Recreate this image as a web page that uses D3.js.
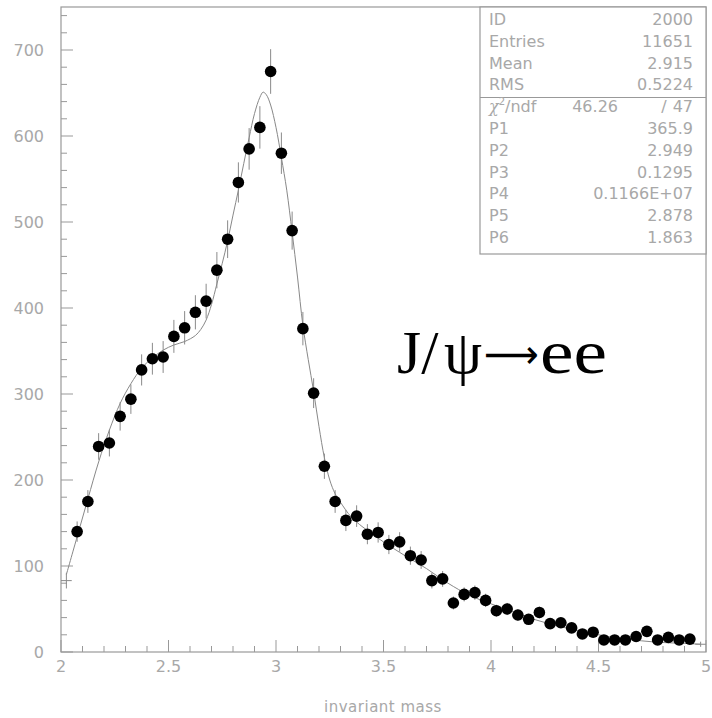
<!DOCTYPE html>
<html>
<head>
<meta charset="utf-8">
<script src="https://cdn.jsdelivr.net/npm/d3@7"></script>
<style>
  html, body { margin: 0; padding: 0; background: #fff; }
  svg { display: block; }
</style>
</head>
<body>
<svg id="chart" width="712" height="718"></svg>
<script>
// ---- data ----
const massBins = [2.025, 2.075, 2.125, 2.175, 2.225, 2.275, 2.325, 2.375, 2.425, 2.475,
  2.525, 2.575, 2.625, 2.675, 2.725, 2.775, 2.825, 2.875, 2.925, 2.975,
  3.025, 3.075, 3.125, 3.175, 3.225, 3.275, 3.325, 3.375, 3.425, 3.475,
  3.525, 3.575, 3.625, 3.675, 3.725, 3.775, 3.825, 3.875, 3.925, 3.975,
  4.025, 4.075, 4.125, 4.175, 4.225, 4.275, 4.325, 4.375, 4.425, 4.475,
  4.525, 4.575, 4.625, 4.675, 4.725, 4.775, 4.825, 4.875, 4.925, 4.975];
const counts = [83, 140, 175, 239, 243, 274, 294, 328, 341, 343,
  367, 377, 395, 408, 444, 480, 546, 585, 610, 675,
  580, 490, 376, 301, 216, 175, 153, 158, 137, 139,
  125, 128, 112, 107, 83, 85, 57, 67, 69, 60,
  48, 50, 43, 38, 46, 33, 34, 28, 21, 23,
  14, 14, 14, 18, 24, 14, 17, 14, 15, 9];
const binWidth = 0.05;

const fitX = [2.025, 2.075, 2.125, 2.175, 2.225, 2.275, 2.325, 2.375, 2.425, 2.475,
  2.525, 2.575, 2.625, 2.65, 2.675, 2.70, 2.725, 2.75, 2.775, 2.80,
  2.825, 2.85, 2.875, 2.90, 2.925, 2.94, 2.955, 2.975, 3.00, 3.025,
  3.05, 3.075, 3.10, 3.125, 3.15, 3.175, 3.20, 3.225, 3.25, 3.275,
  3.30, 3.35, 3.40, 3.45, 3.50, 3.60, 3.70, 3.80, 3.90, 4.00,
  4.10, 4.20, 4.30, 4.40, 4.50, 4.60, 4.70, 4.80, 4.90, 4.975];
const fitY = [90, 134, 178, 221, 258, 289, 312, 330, 342, 351,
  357, 361, 368, 375, 386, 404, 428, 452, 478, 508,
  537, 568, 598, 626, 645, 651, 648, 636, 610, 575,
  537, 488, 436, 380, 340, 303, 262, 226, 200, 184,
  174, 157, 146, 137, 128, 112, 97, 80, 66, 56,
  47, 38, 31, 25, 20, 16, 13, 11, 10, 9];

const xTicks = [2, 2.5, 3, 3.5, 4, 4.5, 5];
const yTicks = [0, 100, 200, 300, 400, 500, 600, 700];

const statLabels = ["ID", "Entries", "Mean", "RMS"];
const statValues = ["2000", "11651", "2.915", "0.5224"];
const chi2Value = "46.26";
const ndfValue = "47";
const parLabels = ["P1", "P2", "P3", "P4", "P5", "P6"];
const parValues = ["365.9", "2.949", "0.1295", "0.1166E+07", "2.878", "1.863"];

const titleParts = ["J/", "\u03C8", "\u27F6", "ee"];
const xTitle = "invariant mass";

(function () {
// ---- layout ----
const svg = d3.select("#chart");
const pL = 61, pR = 706, pT = 7, pB = 652;
const x = d3.scaleLinear().domain([2, 5]).range([pL, pR]);
const y = d3.scaleLinear().domain([0, 750]).range([pB, pT]);

const gray = "#999";
const textGray = "#a8a8a8";
const fontUI = "'DejaVu Sans', sans-serif";

// frame
svg.append("rect").attr("x", pL).attr("y", pT)
  .attr("width", pR - pL).attr("height", pB - pT)
  .attr("fill", "none").attr("stroke", gray).attr("stroke-width", 1.2);

// y ticks (inside)
const yMinor = d3.range(0, 750, 20);
svg.append("g").selectAll("line").data(yMinor).join("line")
  .attr("x1", pL).attr("x2", d => pL + (d % 100 === 0 ? 12 : 6))
  .attr("y1", d => y(d)).attr("y2", d => y(d))
  .attr("stroke", gray).attr("stroke-width", 1);
svg.append("g").selectAll("text").data(yTicks).join("text")
  .attr("x", 44).attr("y", d => y(d)).attr("dy", "0.36em")
  .attr("text-anchor", "end").attr("font-family", fontUI).attr("font-size", 16)
  .attr("fill", textGray).text(d => d);

// x ticks (inside)
const xMinor = d3.range(0, 31).map(i => 2 + i * 0.1);
svg.append("g").selectAll("line").data(xMinor).join("line")
  .attr("x1", d => x(d)).attr("x2", d => x(d))
  .attr("y1", pB).attr("y2", (d, i) => pB - (i % 5 === 0 ? 12 : 6))
  .attr("stroke", gray).attr("stroke-width", 1);
svg.append("g").selectAll("text").data(xTicks).join("text")
  .attr("x", d => x(d)).attr("y", 672)
  .attr("text-anchor", "middle").attr("font-family", fontUI).attr("font-size", 16)
  .attr("fill", textGray).text(d => d);

svg.append("text").attr("x", 383).attr("y", 712)
  .attr("text-anchor", "middle").attr("font-family", fontUI).attr("font-size", 15)
  .attr("letter-spacing", 0.5)
  .attr("fill", textGray).text(xTitle);

// fit curve
const fitData = fitX.map((v, i) => [v, fitY[i]]);
svg.append("path").datum(fitData)
  .attr("d", d3.line().x(d => x(d[0])).y(d => y(d[1])).curve(d3.curveCatmullRom.alpha(0.5)))
  .attr("fill", "none").attr("stroke", "#888").attr("stroke-width", 1);

// error bars
const pts = massBins.map((m, i) => ({ m, c: counts[i], e: Math.sqrt(counts[i]), i }));
const eb = svg.append("g").attr("stroke", "#8a8a8a").attr("stroke-width", 1);
eb.selectAll("line.v").data(pts).join("line").attr("class", "v")
  .attr("x1", d => x(d.m)).attr("x2", d => x(d.m))
  .attr("y1", d => y(d.c - d.e)).attr("y2", d => y(d.c + d.e));
eb.selectAll("line.h").data(pts).join("line").attr("class", "h")
  .attr("x1", d => x(d.m - binWidth / 2)).attr("x2", d => x(d.m + binWidth / 2))
  .attr("y1", d => y(d.c)).attr("y2", d => y(d.c));

// markers (first and last bins have no marker)
svg.append("g").selectAll("circle")
  .data(pts.filter(d => d.i > 0 && d.i < pts.length - 1)).join("circle")
  .attr("cx", d => x(d.m)).attr("cy", d => y(d.c)).attr("r", 5.8)
  .attr("fill", "#000");

// stats box
const bx = 480, bw = pR - bx, by = pT, bh = 254 - pT;
svg.append("rect").attr("x", bx).attr("y", by).attr("width", bw).attr("height", bh)
  .attr("fill", "#fff").attr("stroke", gray).attr("stroke-width", 1.2);
svg.append("line").attr("x1", bx).attr("x2", pR).attr("y1", 97.5).attr("y2", 97.5)
  .attr("stroke", gray).attr("stroke-width", 1.2);

const rowY = i => 25 + i * 21.8;
const st = svg.append("g").attr("font-family", fontUI).attr("font-size", 16).attr("fill", textGray);
statLabels.forEach((l, i) => {
  st.append("text").attr("x", 489).attr("y", rowY(i)).text(l);
  st.append("text").attr("x", 693).attr("y", rowY(i)).attr("text-anchor", "end").text(statValues[i]);
});
// chi2 row
const chiY = rowY(4);
const chi = st.append("text").attr("x", 489).attr("y", chiY);
chi.append("tspan").attr("font-family", "'DejaVu Serif', serif").attr("font-style", "italic").text("\u03C7");
chi.append("tspan").attr("font-size", 10).attr("dy", -7).text("2");
chi.append("tspan").attr("dy", 7).text("/ndf");
st.append("text").attr("x", 618).attr("y", chiY).attr("text-anchor", "end").text(chi2Value);
st.append("text").attr("x", 664).attr("y", chiY).attr("text-anchor", "middle").text("/");
st.append("text").attr("x", 693).attr("y", chiY).attr("text-anchor", "end").text(ndfValue);
parLabels.forEach((l, i) => {
  st.append("text").attr("x", 489).attr("y", rowY(5 + i)).text(l);
  st.append("text").attr("x", 693).attr("y", rowY(5 + i)).attr("text-anchor", "end").text(parValues[i]);
});

// big label  J/psi -> ee
const big = svg.append("g").attr("font-family", "'Liberation Serif', 'Times New Roman', serif")
  .attr("font-size", 62).attr("fill", "#000");
big.append("text").attr("x", 397).attr("y", 373).text(titleParts[0]);
big.append("text").attr("x", 444).attr("y", 373)
  .attr("textLength", 38).attr("lengthAdjust", "spacingAndGlyphs").text(titleParts[1]);
big.append("text").attr("x", 484).attr("y", 368)
  .attr("font-family", "'DejaVu Sans', sans-serif").attr("font-size", 40)
  .attr("textLength", 55).attr("lengthAdjust", "spacingAndGlyphs").text(titleParts[2]);
big.append("text").attr("x", 540).attr("y", 373)
  .attr("textLength", 67).attr("lengthAdjust", "spacingAndGlyphs").text(titleParts[3]);
})();
</script>
</body>
</html>
